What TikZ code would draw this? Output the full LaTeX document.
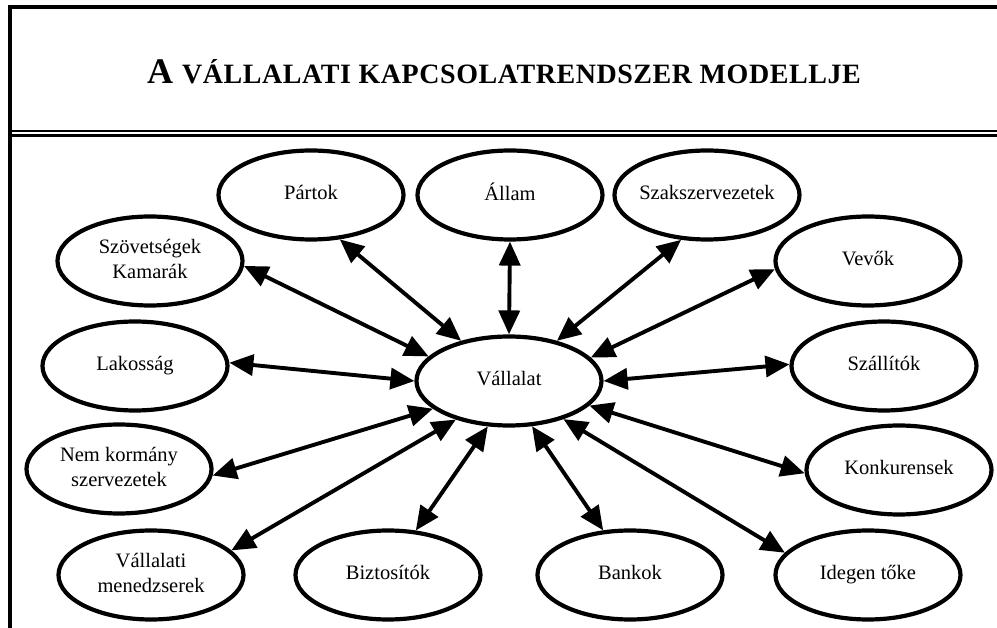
\documentclass[tikz,border=0pt]{standalone}
\usepackage{fontspec}
\setmainfont{Liberation Serif}
\newfontfamily\titlefont{Liberation Serif Bold}
\usetikzlibrary{arrows.meta,shapes.geometric}
% centred label whose width does not enlarge the ellipse
\newcommand\nodetext[1]{\makebox[0pt]{\begin{tabular}{@{}c@{}}#1\end{tabular}}}
\begin{document}
\begin{tikzpicture}[x=1pt,y=-1pt,
  actor/.style={draw, line width=4.2pt, ellipse, minimum width=185pt,
    minimum height=89pt, inner sep=0pt, font=\fontsize{20.5}{24.6}\selectfont},
  link/.style={line width=3.9pt,
    {Triangle[length=24pt,width=21pt]}-{Triangle[length=24pt,width=21pt]}},
  frame/.style={line width=4pt}]
\useasboundingbox (0,0) rectangle (997,628);

% frame of the sheet
\draw[frame] (8,7) -- (997,7);
\draw[frame] (10,5) -- (10,628);
\draw[line width=1.5pt] (12,131) -- (997,131);
\draw[line width=2.6pt] (12,135.3) -- (997,135.3);

% title
\node (title) at (504,72) {\titlefont\fontsize{36}{38}\selectfont A\ %
  \fontsize{28}{30}\selectfont\addfontfeature{LetterSpace=2}V\'ALLALATI KAPCSOLATRENDSZER MODELLJE};

% actors
\node[actor] (vall)   at (509,381) {\nodetext{Vállalat}};
\node[actor] (partok) at (311,195) {\nodetext{Pártok}};
\node[actor] (allam)  at (510,195) {\nodetext{Állam}};
\node[actor] (szak)   at (707,195) {\nodetext{Szakszervezetek}};
\node[actor] (szov)   at (150,261) {\nodetext{Szövetségek\\Kamarák}};
\node[actor] (vevok)  at (868,261) {\nodetext{Vevők}};
\node[actor] (lak)    at (135,366) {\nodetext{Lakosság}};
\node[actor] (szall)  at (884,366) {\nodetext{Szállítók}};
\node[actor] (nem)    at (119,469) {\nodetext{Nem kormány\\szervezetek}};
\node[actor] (konk)   at (899,470) {\nodetext{Konkurensek}};
\node[actor] (menedz) at (151,575) {\nodetext{Vállalati\\menedzserek}};
\node[actor] (bizt)   at (388,575) {\nodetext{Biztosítók}};
\node[actor] (bank)   at (630,575) {\nodetext{Bankok}};
\node[actor] (idegen) at (868,575) {\nodetext{Idegen tőke}};

% two-way relations
\draw[link] (vall.140)  -- (partok.-57);
\draw[link] (vall.90)   -- (allam.-90);
\draw[link] (vall.40)   -- (szak.-120);
\draw[link] (vall.163)  -- (szov.-3);
\draw[link] (vall.16)   -- (vevok.185);
\draw[link] (vall.180)  -- (lak.2);
\draw[link] (vall.0)    -- (szall.179);
\draw[link] (vall.200)  -- (nem.-4);
\draw[link] (vall.216)  -- (menedz.17);
\draw[link] (vall.245)  -- (bizt.58);
\draw[link] (vall.-63)  -- (bank.121);
\draw[link] (vall.-35)  -- (idegen.165);
\draw[link] (vall.-17)  -- (konk.182);
\end{tikzpicture}
\end{document}
